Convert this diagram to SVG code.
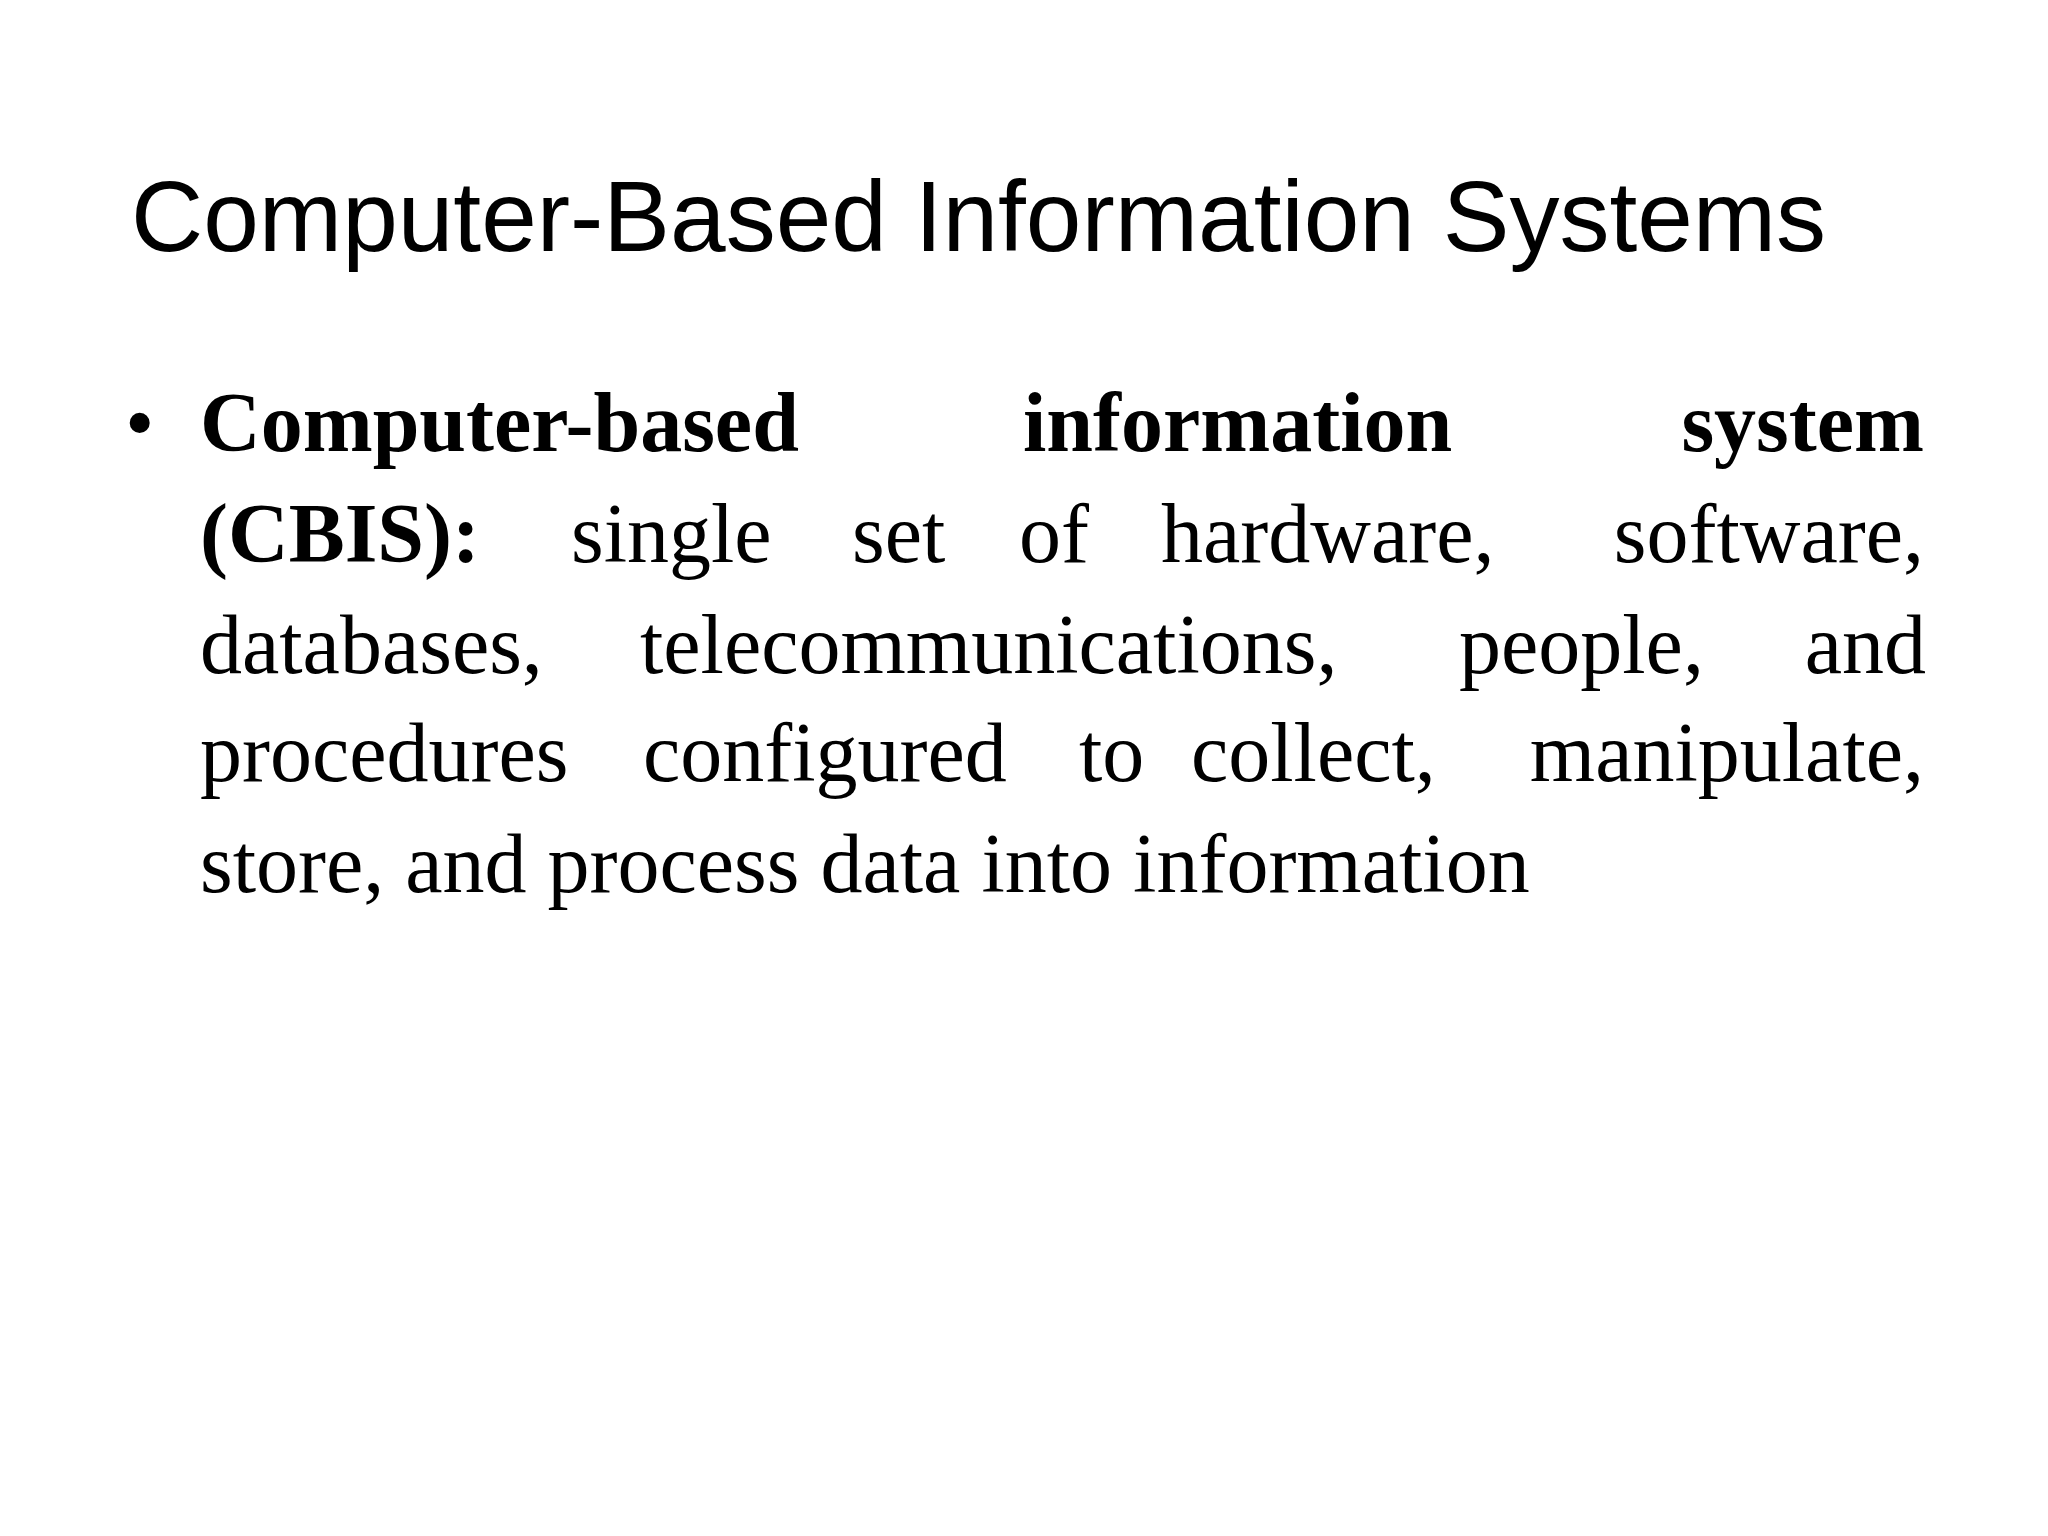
<svg xmlns="http://www.w3.org/2000/svg" width="2048" height="1536" viewBox="0 0 2048 1536">
<style>
.t{font-family:"Liberation Sans",Arial,sans-serif;font-size:100px;fill:#000}
.b{font-family:"Liberation Serif","Times New Roman",serif;font-size:84px;fill:#000}
.bd{font-weight:bold}
.e{text-anchor:end}
</style>
<rect width="2048" height="1536" fill="#fff"/>
<g id="title"><text class="t" x="131" y="251">Computer-Based Information Systems</text></g>
<g id="body">
<text class="b" x="125" y="451">•</text>
<text class="b bd" x="200" y="451">Computer-based</text>
<text class="b bd" x="1023" y="451">information</text>
<text class="b bd e" x="1924" y="451">system</text>
<text class="b bd" x="200" y="562">(CBIS):</text>
<text class="b" x="571" y="562">single</text>
<text class="b" x="852" y="562">set</text>
<text class="b" x="1019" y="562">of</text>
<text class="b" x="1161" y="562">hardware,</text>
<text class="b e" x="1924" y="562">software,</text>
<text class="b" x="200" y="673">databases,</text>
<text class="b" x="640" y="673">telecommunications,</text>
<text class="b" x="1459" y="673">people,</text>
<text class="b e" x="1926" y="673">and</text>
<text class="b" x="200" y="781">procedures</text>
<text class="b" x="643" y="781">configured</text>
<text class="b" x="1079" y="781">to</text>
<text class="b" x="1191" y="781">collect,</text>
<text class="b e" x="1924" y="781">manipulate,</text>
<text class="b" x="200" y="892">store, and process data into information</text>
</g>
</svg>
